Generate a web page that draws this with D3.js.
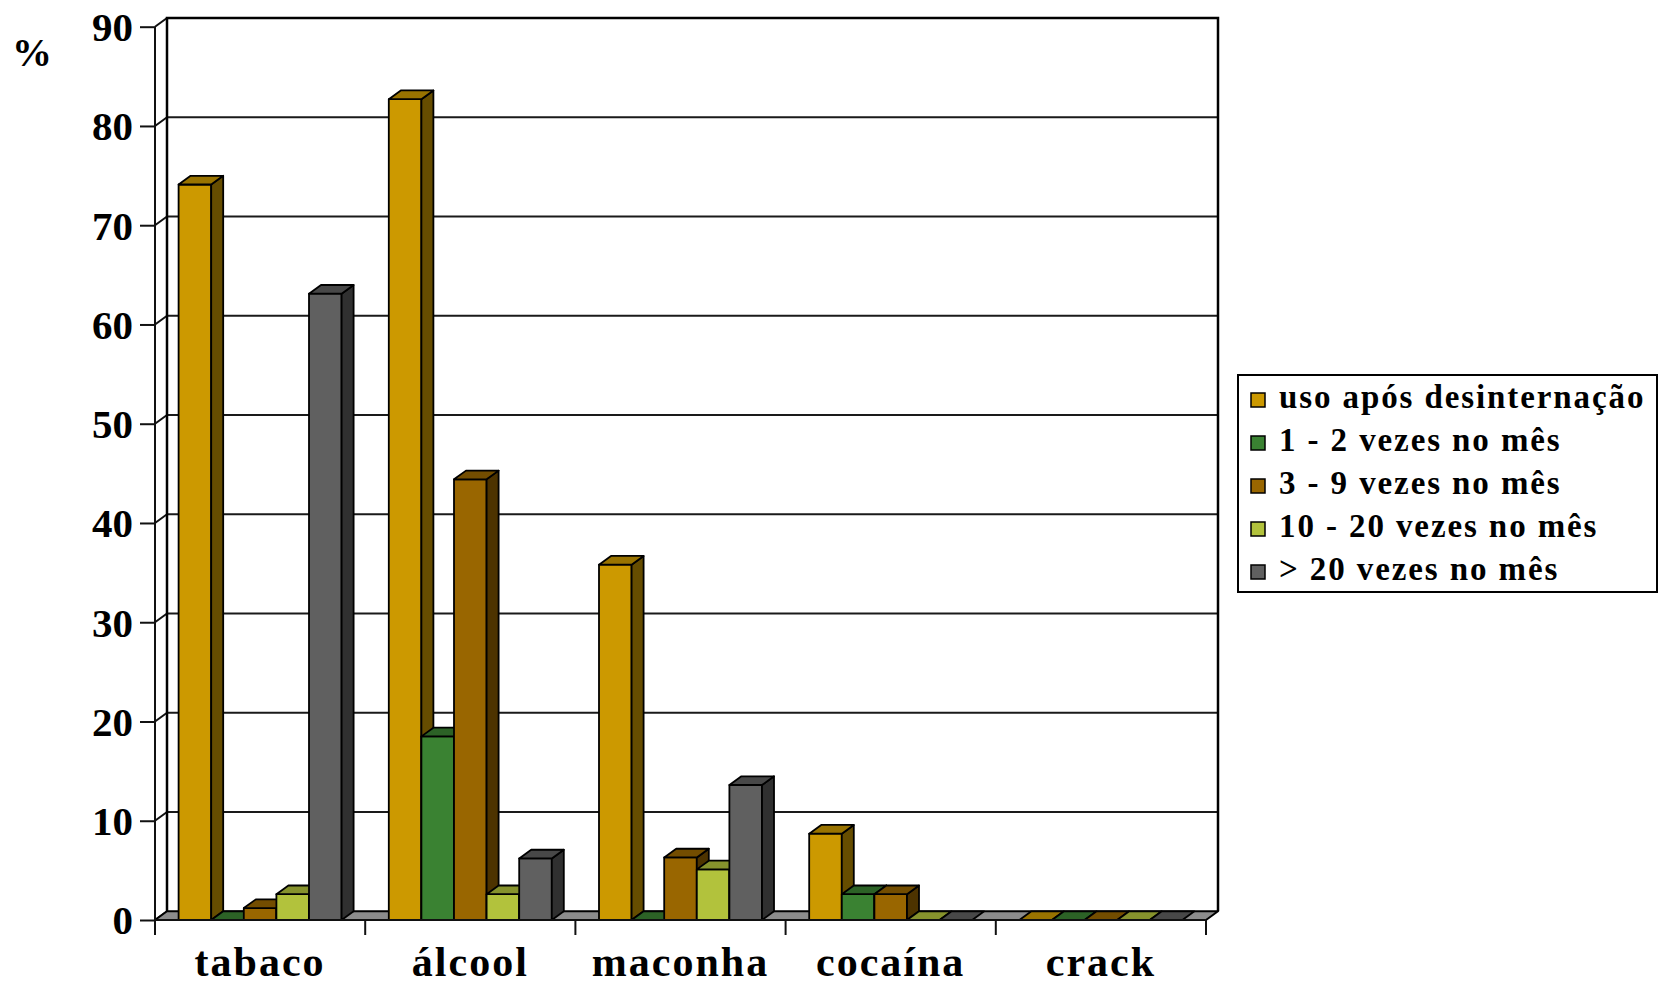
<!DOCTYPE html>
<html>
<head>
<meta charset="utf-8">
<script src="https://cdn.jsdelivr.net/npm/d3@7/dist/d3.min.js"></script>
<style>
  html, body { margin: 0; padding: 0; background: #fff; }
  svg { display: block; }
  text { font-family: "Liberation Serif", "Times New Roman", serif; font-weight: bold; fill: #000; }
</style>
</head>
<body>
<svg id="chart" width="1658" height="986"></svg>
<script>
// Substances on the horizontal axis
const categories = ["tabaco", "álcool", "maconha", "cocaína", "crack"];

// Legend entries (one per series)
const seriesNames = [
  "uso após desinternação",
  "1 - 2 vezes no mês",
  "3 - 9 vezes no mês",
  "10 - 20 vezes no mês",
  "> 20 vezes no mês"
];

// Percentages per substance, one array per series
const usoAposDesinternacao = [74.1, 82.7, 35.8, 8.7, 0];
const vezes1a2 = [0, 18.5, 0, 2.6, 0];
const vezes3a9 = [1.2, 44.4, 6.3, 2.6, 0];
const vezes10a20 = [2.6, 2.6, 5.1, 0, 0];
const vezesMais20 = [63.1, 6.2, 13.6, 0, 0];

// Y axis ticks
const yTicks = [0, 10, 20, 30, 40, 50, 60, 70, 80, 90];

const seriesColors = ["#CC9900", "#3A8232", "#996600", "#B2C23C", "#606060"];

const seriesValues = [usoAposDesinternacao, vezes1a2, vezes3a9, vezes10a20, vezesMais20];

(function drawChart() {
  const svg = d3.select("#chart");

  // Plot geometry (front plane) and 3-D depth offset
  const plotLeft = 155, plotRight = 1206, plotBase = 920, plotTop = 26.7;
  const dx = 12, dy = -8.7;

  const x = d3.scaleBand().domain(categories).range([plotLeft, plotRight])
    .paddingInner(0.2245).paddingOuter(0.11225);
  const xs = d3.scaleBand().domain(seriesNames).range([0, x.bandwidth()]);
  const y = d3.scaleLinear().domain([0, 90]).range([plotBase, plotTop]);

  const shade = (c, k) => { const r = d3.rgb(c); return d3.rgb(r.r * k, r.g * k, r.b * k).formatHex(); };
  const pts = a => a.map(p => p.join(",")).join(" ");

  // Back wall
  const wall = svg.append("g");
  wall.append("rect")
    .attr("x", plotLeft + dx).attr("y", y(90) + dy)
    .attr("width", plotRight - plotLeft).attr("height", y(0) - y(90))
    .attr("fill", "#fff");

  // Horizontal gridlines on the back wall
  wall.selectAll("line.grid").data(yTicks.filter(t => t > 0 && t < 90)).join("line")
    .attr("class", "grid")
    .attr("x1", plotLeft + dx).attr("x2", plotRight + dx)
    .attr("y1", d => y(d) + dy).attr("y2", d => y(d) + dy)
    .attr("stroke", "#1a1a1a").attr("stroke-width", 2);

  // Left wall: diagonal connectors from the front axis to the back wall
  wall.selectAll("line.side").data(yTicks).join("line")
    .attr("class", "side")
    .attr("x1", plotLeft).attr("x2", plotLeft + dx)
    .attr("y1", d => y(d)).attr("y2", d => y(d) + dy)
    .attr("stroke", "#111").attr("stroke-width", 2);

  // Back wall border
  wall.append("polyline")
    .attr("points", pts([[plotLeft + dx, y(0) + dy], [plotLeft + dx, y(90) + dy], [plotRight + dx, y(90) + dy], [plotRight + dx, y(0) + dy]]))
    .attr("fill", "none").attr("stroke", "#000").attr("stroke-width", 2.5);

  // Floor
  svg.append("polygon")
    .attr("points", pts([[plotLeft, plotBase], [plotLeft + dx, plotBase + dy], [plotRight + dx, plotBase + dy], [plotRight, plotBase]]))
    .attr("fill", "#8c8c8c").attr("stroke", "#000").attr("stroke-width", 2).attr("stroke-linejoin", "round");

  // Y axis (front)
  const yAxis = d3.axisLeft(y).tickValues(yTicks).tickSize(15).tickSizeOuter(0).tickPadding(7);
  const yg = svg.append("g").attr("transform", `translate(${plotLeft},0)`).call(yAxis);
  yg.select(".domain").remove();
  yg.selectAll(".tick line").attr("stroke", "#111").attr("stroke-width", 2);
  yg.selectAll(".tick text")
    .attr("font-family", "'Liberation Serif', serif").attr("font-weight", "bold")
    .attr("font-size", 41).attr("fill", "#000").attr("dy", "0.34em");

  svg.append("line")
    .attr("x1", plotLeft).attr("x2", plotLeft).attr("y1", y(90)).attr("y2", plotBase + 15)
    .attr("stroke", "#111").attr("stroke-width", 2);

  // Bars: front, top and side faces, drawn left to right
  const bars = svg.append("g");
  const data = [];
  categories.forEach((c, ci) => {
    seriesNames.forEach((s, si) => data.push({ c, s, si, v: seriesValues[si][ci] }));
  });
  data.forEach(d => {
    const x0 = x(d.c) + xs(d.s), x1 = x0 + xs.bandwidth();
    const yt = y(d.v), yb = y(0);
    const col = seriesColors[d.si];
    const g = bars.append("g")
      .attr("stroke", "#000").attr("stroke-width", 1.8).attr("stroke-linejoin", "round");
    if (d.v > 0) {
      g.append("rect").attr("x", x0).attr("y", yt).attr("width", x1 - x0).attr("height", yb - yt)
        .attr("fill", col);
      g.append("polygon")
        .attr("points", pts([[x1, yt], [x1 + dx, yt + dy], [x1 + dx, yb + dy], [x1, yb]]))
        .attr("fill", shade(col, 0.5));
    }
    g.append("polygon")
      .attr("points", pts([[x0, yt], [x0 + dx, yt + dy], [x1 + dx, yt + dy], [x1, yt]]))
      .attr("fill", shade(col, 0.75));
  });

  // Front floor edge and category boundary ticks
  svg.append("line")
    .attr("x1", plotLeft).attr("x2", plotRight).attr("y1", plotBase).attr("y2", plotBase)
    .attr("stroke", "#111").attr("stroke-width", 2);
  const bounds = d3.range(categories.length + 1).map(i => plotLeft + i * x.step());
  svg.selectAll("line.cat").data(bounds).join("line")
    .attr("class", "cat")
    .attr("x1", d => d).attr("x2", d => d).attr("y1", plotBase).attr("y2", plotBase + 15)
    .attr("stroke", "#111").attr("stroke-width", 2);

  // Category labels
  const xAxis = d3.axisBottom(x).tickSize(0).tickSizeOuter(0);
  const xg = svg.append("g").attr("transform", `translate(0,${plotBase})`).call(xAxis);
  xg.select(".domain").remove();
  xg.selectAll(".tick text")
    .attr("font-family", "'Liberation Serif', serif").attr("font-weight", "bold")
    .attr("font-size", 42).attr("letter-spacing", "2px").attr("fill", "#000")
    .attr("y", 56).attr("dy", 0);

  // Unit label
  svg.append("text").attr("x", 32).attr("y", 66).attr("text-anchor", "middle")
    .attr("font-size", 40).text("%");

  // Legend
  const lg = svg.append("g");
  lg.append("rect").attr("x", 1238).attr("y", 375).attr("width", 419).attr("height", 217)
    .attr("fill", "#fff").attr("stroke", "#000").attr("stroke-width", 2);
  const items = lg.selectAll("g.item").data(seriesNames).join("g")
    .attr("class", "item")
    .attr("transform", (d, i) => `translate(1251,${400 + i * 43})`);
  items.append("rect").attr("x", 0).attr("y", -7).attr("width", 14).attr("height", 14)
    .attr("fill", (d, i) => seriesColors[i]).attr("stroke", "#000").attr("stroke-width", 1.5);
  items.append("text").attr("x", 28).attr("y", 8)
    .attr("font-size", 33).attr("letter-spacing", "1.9px").text(d => d);
})();
</script>
</body>
</html>
